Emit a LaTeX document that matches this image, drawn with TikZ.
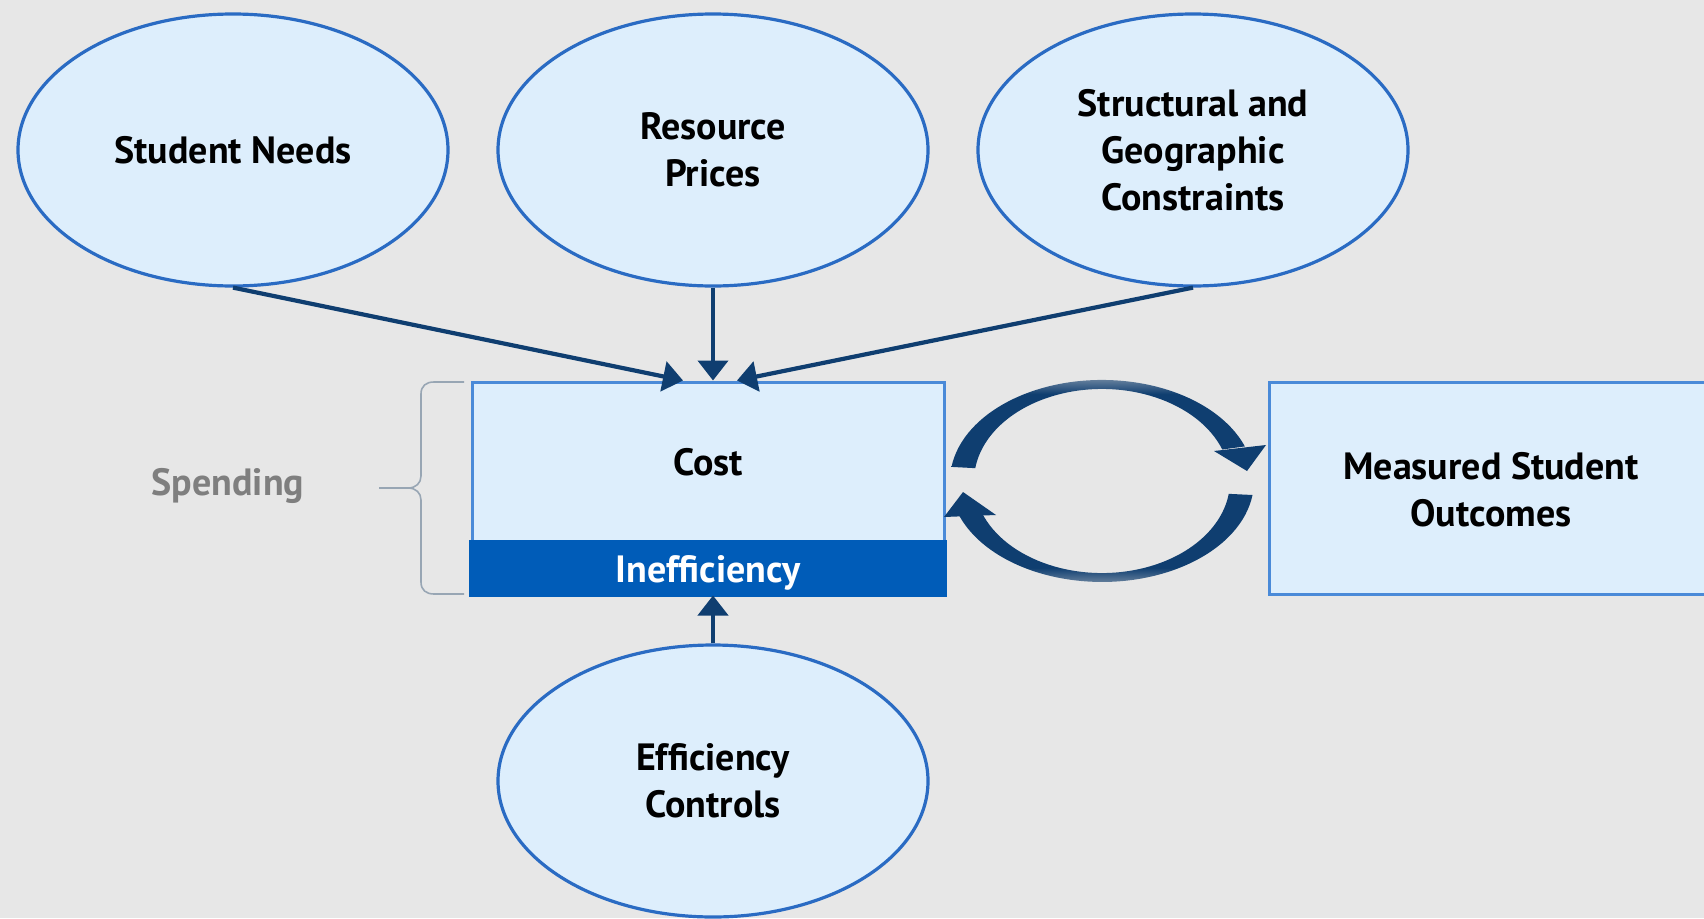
\documentclass[tikz,border=0pt]{standalone}
\usepackage{fontspec}
\setmainfont{PT Sans}
\usetikzlibrary{arrows.meta,shapes.geometric}
\definecolor{bg}{HTML}{E7E7E7}
\definecolor{ovalfill}{HTML}{DDEEFC}
\definecolor{ovalborder}{HTML}{2A6BC3}
\definecolor{boxborder}{HTML}{4A8AD8}
\definecolor{navy}{HTML}{0F3E70}
\definecolor{ineffblue}{HTML}{005CB8}
\definecolor{spendgray}{HTML}{7F7F7F}
\definecolor{bracegray}{HTML}{98A6B4}
\definecolor{fadec}{HTML}{8A9CB0}
\pgfdeclareverticalshading{fadeup}{100bp}{color(0bp)=(navy); color(25bp)=(navy); color(64bp)=(navy); color(75bp)=(fadec); color(100bp)=(fadec)}
\pgfdeclareverticalshading{fadedown}{100bp}{color(0bp)=(fadec); color(25bp)=(fadec); color(36bp)=(navy); color(75bp)=(navy); color(100bp)=(navy)}
\newcommand\labfont{\fontsize{38pt}{47pt}\selectfont\bfseries}
\tikzset{
  oval/.style={ellipse, draw=ovalborder, fill=ovalfill, line width=3.2pt,
    minimum width=430pt, minimum height=272pt, inner sep=0pt, align=center, font=\labfont},
  boxnode/.style={rectangle, draw=boxborder, fill=ovalfill, line width=3pt, inner sep=0pt,
    minimum height=212pt},
  lbl/.style={inner sep=0pt, align=center, font=\labfont},
  conn/.style={draw=navy, line width=4.2pt, -{Triangle[length=20pt,width=30pt]}},
}
\begin{document}
\begin{tikzpicture}[x=1pt,y=-1pt]
\useasboundingbox (0,0) rectangle (1704,918);
\fill[bg] (0,0) rectangle (1704,918);

% ellipses
\node[oval] (sn) at (233,150) {Student Needs};
\node[oval] (rp) at (713,150) {Resource\\Prices};
\node[oval] (st) at (1193,150) {Structural and\\Geographic\\Constraints};
\node[oval] (ec) at (713,781) {Efficiency\\Controls};

% cost box
\node[boxnode, minimum width=472pt] (cost) at (708,488) {};
\fill[ineffblue] ([xshift=-1.5pt,yshift=-1.5pt]cost.south west) rectangle ([xshift=1.5pt,yshift=56pt]cost.south east);
\node[lbl] (costlbl) at (708,462) {Cost};
\node[lbl, text=white] (inefflbl) at (708,573) {Inefficiency};

% measured outcomes box
\node[boxnode, minimum width=470pt, anchor=west] (mso) at (1267.5,488) {};
\node[lbl] (msolbl) at (1491,490) {Measured Student\\Outcomes};

% spending
\node[lbl, text=spendgray] (spend) at (228,486) {Spending};

% brace
\draw[bracegray, line width=1.6pt]
  (464,382) -- (434,382) .. controls (426,382) and (421,386) .. (421,394) -- (421,476)
  .. controls (421,483) and (416,488) .. (408,488) -- (379,488)
  (379,488) -- (408,488) .. controls (416,488) and (421,493) .. (421,500) -- (421,582)
  .. controls (421,590) and (426,594) .. (434,594) -- (464,594);

% connectors
\draw[conn] (sn.south) -- ([xshift=-25pt]cost.north);
\draw[conn] (rp.south) -- (rp.south |- cost.north);
\draw[conn] (st.south) -- ([xshift=29pt]cost.north);
\draw[conn] (ec.north) -- (ec.north |- cost.south);

% circular arrows
\shade[shading=fadeup] (951.5,466.9) arc[start angle=188, end angle=340, x radius=152, y radius=101]
  -- (1222.3,449.5) arc[start angle=340, end angle=188, x radius=128, y radius=92] -- cycle;
\fill[navy] (1214,451) -- (1266,445) -- (1247,471) -- cycle;
\shade[shading=fadedown] (1252.5,495) arc[start angle=8, end angle=160, x radius=152, y radius=101]
  -- (981.7,512.5) arc[start angle=160, end angle=8, x radius=128, y radius=92] -- cycle;
\fill[navy] (944,517) -- (996,515) -- (963,492) -- cycle;
\end{tikzpicture}
\end{document}
